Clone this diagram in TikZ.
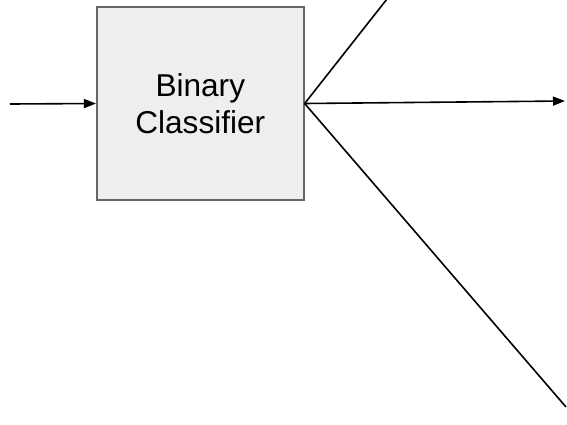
\documentclass[tikz,border=0pt]{standalone}
\usepackage{fontspec}
\setmainfont{Liberation Sans}
\usetikzlibrary{arrows.meta}
\definecolor{boxfill}{HTML}{EEEEEE}
\definecolor{boxline}{HTML}{666666}
\tikzset{
  classbox/.style={draw=boxline, fill=boxfill, line width=2pt,
    minimum width=206.7pt, minimum height=193pt, inner sep=0pt,
    align=center, font=\fontsize{31.6}{37.3}\selectfont},
  wire/.style={line width=1.6pt, black},
  arrowwire/.style={wire, -{Triangle[length=12pt,width=9pt]}}
}
\begin{document}
\begin{tikzpicture}[x=1pt, y=-1pt]
  \useasboundingbox (0,0) rectangle (567,424);
  \fill[white] (0,0) rectangle (567,424);

  % classifier block
  \node[classbox] (clf) at (200.3,103.5) {Binary\\Classifier};

  % input
  \coordinate (src) at (10,104);
  \draw[arrowwire] (src) -- (clf.west);

  % outputs fanning out from the right side
  \coordinate (fan) at (clf.east);
  \coordinate (outup) at (387,-1);
  \coordinate (outmid) at (565,101);
  \coordinate (outdown) at (566,407);
  \draw[wire] (fan) -- (outup);
  \draw[arrowwire] (fan) -- (outmid);
  \draw[wire] (fan) -- (outdown);
\end{tikzpicture}
\end{document}
